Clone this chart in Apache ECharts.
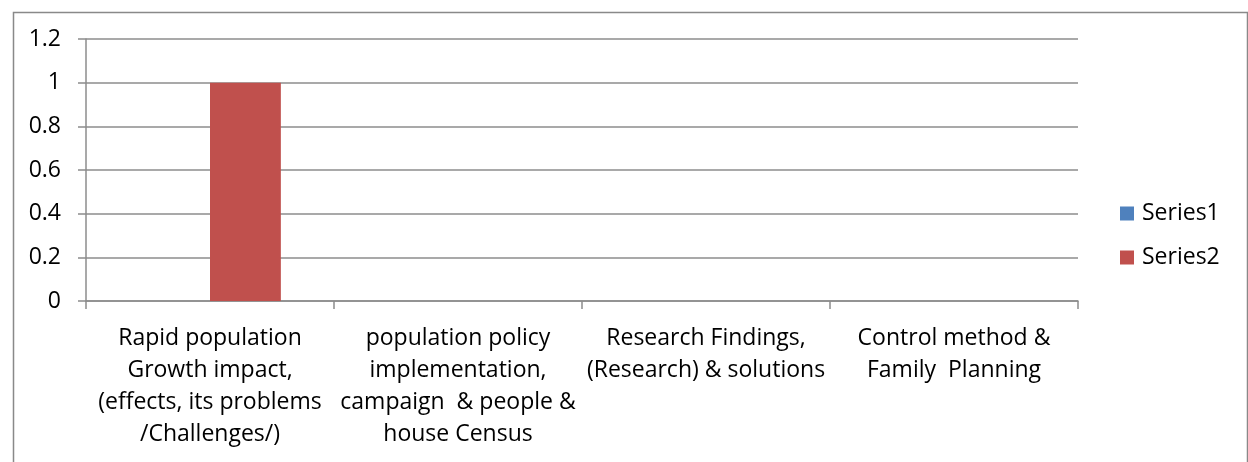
<!DOCTYPE html>
<html>
<head>
<meta charset="utf-8">
<script src="https://cdn.jsdelivr.net/npm/echarts@6/dist/echarts.min.js"></script>
<style>
html,body{margin:0;padding:0;background:#fff;}
#chart{width:1248px;height:462px;}
</style>
</head>
<body>
<div id="chart"></div>
<script>
const categories = [
  "Rapid population\nGrowth impact,\n(effects, its problems\n/Challenges/)",
  "population policy\nimplementation,\ncampaign  & people &\nhouse Census",
  "Research Findings,\n(Research) & solutions",
  "Control method &\nFamily  Planning"
];
const series1 = [0, 0, 0, 0];
const series2 = [1, 0, 0, 0];
const yTicks = { min: 0, max: 1.2, interval: 0.2 };

const FONT = '"Open Sans", "Liberation Sans", Arial, sans-serif';
const GRID = '#8c8c8c';
const chart = echarts.init(document.getElementById('chart'), null, { renderer: 'canvas' });
chart.setOption({
  animation: false,
  backgroundColor: '#fff',
  textStyle: { fontFamily: FONT },
  graphic: [{
    type: 'rect', left: 11, top: 10, silent: true,
    shape: { width: 1234, height: 470 },
    style: { fill: 'none', stroke: '#898989', lineWidth: 1.5 }
  }],
  grid: { left: 86, right: 170, top: 39, bottom: 161, containLabel: false },
  legend: {
    orient: 'vertical', left: 1115, top: 197,
    itemWidth: 14, itemHeight: 14, itemGap: 21,
    icon: 'rect',
    textStyle: { fontFamily: FONT, fontSize: 23, color: '#000', padding: [0, 0, 0, 3] },
    data: ['Series1', 'Series2']
  },
  xAxis: {
    type: 'category', data: categories,
    axisLine: { show: true, lineStyle: { color: GRID, width: 1.5 } },
    axisTick: { show: true, length: 8, lineStyle: { color: GRID, width: 1.5 } },
    axisLabel: { interval: 0, fontFamily: FONT, fontSize: 23, lineHeight: 32, color: '#000', margin: 21, align: 'center' },
    splitLine: { show: false }
  },
  yAxis: {
    type: 'value', min: yTicks.min, max: yTicks.max, interval: yTicks.interval,
    axisLine: { show: true, lineStyle: { color: GRID, width: 1.5 } },
    axisTick: { show: true, length: 8, lineStyle: { color: GRID, width: 1.5 } },
    axisLabel: { fontFamily: FONT, fontSize: 23, color: '#000', margin: 25,
      formatter: v => String(Math.round(v * 10) / 10) },
    splitLine: { show: true, lineStyle: { color: GRID, width: 1.5 } }
  },
  series: [
    { name: 'Series1', type: 'bar', data: series1, itemStyle: { color: '#4F81BD' },
      barGap: '0%', barCategoryGap: '42.86%' },
    { name: 'Series2', type: 'bar', data: series2, itemStyle: { color: '#C0504D' },
      barGap: '0%', barCategoryGap: '42.86%' }
  ]
});
</script>
</body>
</html>
